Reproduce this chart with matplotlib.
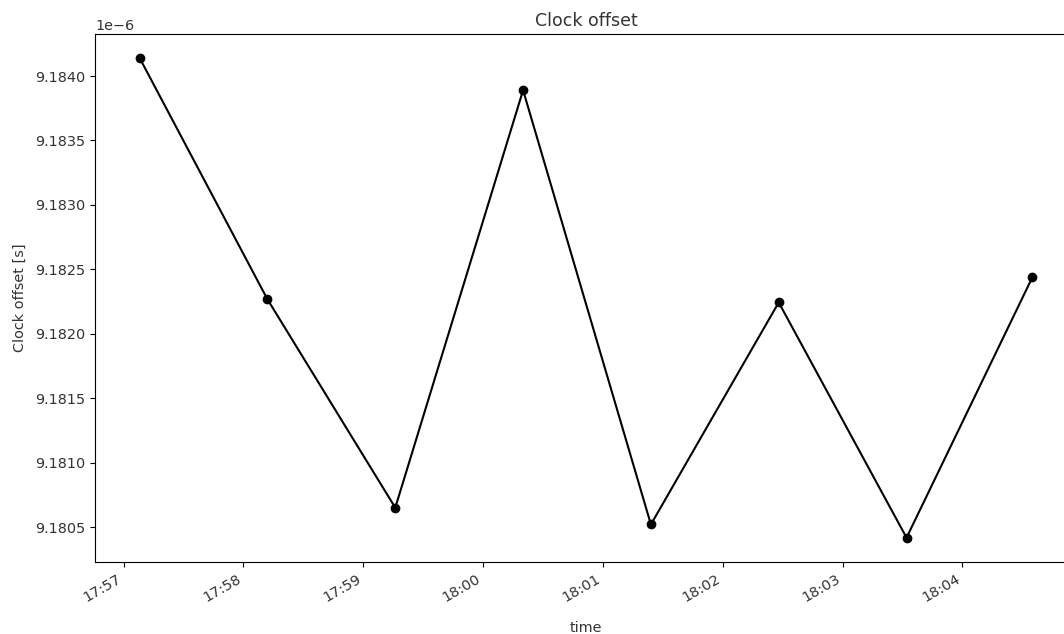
import matplotlib
matplotlib.use("Agg")
import matplotlib.pyplot as plt
import matplotlib.dates as mdates
import pandas as pd

# sample times and measured clock offsets
times = ["17:57:08", "17:58:12", "17:59:16", "18:00:20",
         "18:01:24", "18:02:28", "18:03:32", "18:04:35"]
offsets = [9.184140e-6, 9.182267e-6, 9.180650e-6, 9.183890e-6,
           9.180520e-6, 9.182243e-6, 9.180417e-6, 9.182438e-6]

t = pd.to_datetime(["2024-01-01 " + s for s in times])

plt.rcParams["font.size"] = 10.4
plt.rcParams["text.color"] = "#333333"
plt.rcParams["axes.labelcolor"] = "#333333"
plt.rcParams["xtick.labelcolor"] = "#333333"
plt.rcParams["ytick.labelcolor"] = "#333333"

fig = plt.figure(figsize=(10.64, 6.34), dpi=100)
# axes runs past the right edge, as in the cropped original
ax = fig.add_axes([95 / 1064, (634 - 561.7) / 634,
                   (1077 - 95) / 1064, (561.7 - 34) / 634])

ax.plot(t, offsets, "-o", color="black")
ax.set_title("Clock offset")
ax.set_xlabel("time", labelpad=12)
ax.set_ylabel("Clock offset [s]", labelpad=6)

ax.xaxis.set_major_locator(mdates.MinuteLocator())
ax.xaxis.set_major_formatter(mdates.DateFormatter("%H:%M"))
plt.setp(ax.get_xticklabels(), rotation=30, ha="right")

fig.savefig("out.png", dpi=100)
